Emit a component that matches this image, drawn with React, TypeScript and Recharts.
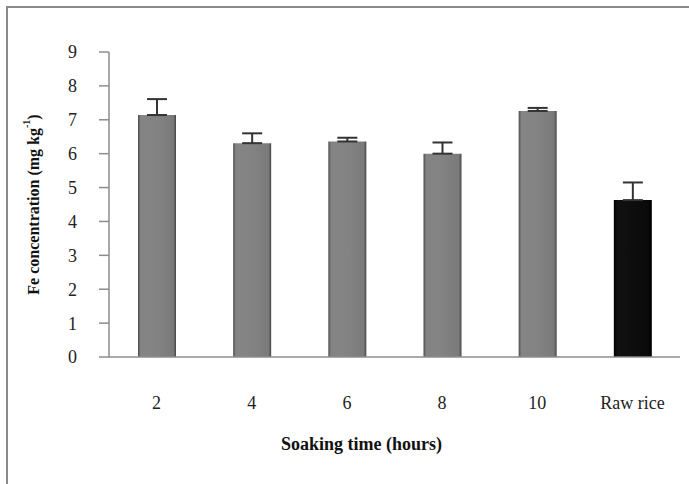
import { BarChart, Bar, XAxis, YAxis, ErrorBar, Cell } from 'recharts';

const categories = ['2', '4', '6', '8', '10', 'Raw rice'];
const feValues = [7.14, 6.31, 6.36, 6.0, 7.26, 4.63];
const feErrors = [0.47, 0.29, 0.11, 0.33, 0.09, 0.52];
const yTicks = [0, 1, 2, 3, 4, 5, 6, 7, 8, 9];

const data = categories.map((name, i) => ({
  name,
  fe: feValues[i],
  err: [0, feErrors[i]],
}));

const FONT = '"Liberation Serif", "DejaVu Serif", serif';

function YLabel({ viewBox }: any) {
  const cx = 33;
  const cy = viewBox.y + viewBox.height / 2;
  return (
    <text
      x={cx}
      y={cy}
      transform={`rotate(-90 ${cx} ${cy})`}
      textAnchor="middle"
      dominantBaseline="central"
      fontFamily={FONT}
      fontWeight="bold"
      fontSize={16}
      fill="#111"
    >
      Fe concentration (mg kg
      <tspan fontSize={10} dy={-7}>-1</tspan>
      <tspan dy={7}>)</tspan>
    </text>
  );
}

export default function App() {
  return (
    <div style={{ position: 'absolute', left: 0, top: 0, width: 689, height: 484, background: '#fff', overflow: 'hidden' }}>
      <div
        style={{
          position: 'absolute',
          left: 6,
          top: 6,
          width: 700,
          height: 500,
          border: '2px solid #8a8a8a',
          boxSizing: 'border-box',
        }}
      />
      <BarChart
        width={689}
        height={484}
        data={data}
        margin={{ top: 52, right: 9, bottom: 0, left: 0 }}
        barCategoryGap={0}
      >
        <defs>
          <linearGradient id="greyBar" x1="0" y1="0" x2="1" y2="0">
            <stop offset="0%" stopColor="#4a4a4a" />
            <stop offset="7%" stopColor="#848484" />
            <stop offset="50%" stopColor="#838383" />
            <stop offset="93%" stopColor="#7a7a7a" />
            <stop offset="100%" stopColor="#454545" />
          </linearGradient>
          <linearGradient id="blackBar" x1="0" y1="0" x2="1" y2="0">
            <stop offset="0%" stopColor="#000" />
            <stop offset="10%" stopColor="#111" />
            <stop offset="90%" stopColor="#0a0a0a" />
            <stop offset="100%" stopColor="#000" />
          </linearGradient>
        </defs>
        <XAxis
          dataKey="name"
          height={127}
          axisLine={{ stroke: '#8c8c8c', strokeWidth: 1.5 }}
          tickLine={false}
          interval={0}
          tick={{ fontFamily: FONT, fontSize: 18, fill: '#222', dy: 31 }}
          label={{
            value: 'Soaking time (hours)',
            position: 'insideTop',
            offset: 80,
            dx: -33,
            fontFamily: FONT,
            fontWeight: 'bold',
            fontSize: 18,
            fill: '#111',
          }}
        />
        <YAxis
          domain={[0, 9]}
          ticks={yTicks}
          width={109}
          axisLine={{ stroke: '#8c8c8c', strokeWidth: 1.5 }}
          tickLine={{ stroke: '#8c8c8c', strokeWidth: 1.5 }}
          tickSize={10}
          tick={{ fontFamily: FONT, fontSize: 18, fill: '#222', dx: -20 }}
          label={<YLabel />}
        />
        <Bar dataKey="fe" barSize={38} isAnimationActive={false}>
          {data.map((d, i) => (
            <Cell key={d.name} fill={i === 5 ? 'url(#blackBar)' : 'url(#greyBar)'} />
          ))}
          <ErrorBar dataKey="err" direction="y" width={10} stroke="#333" strokeWidth={2} />
        </Bar>
      </BarChart>
    </div>
  );
}
